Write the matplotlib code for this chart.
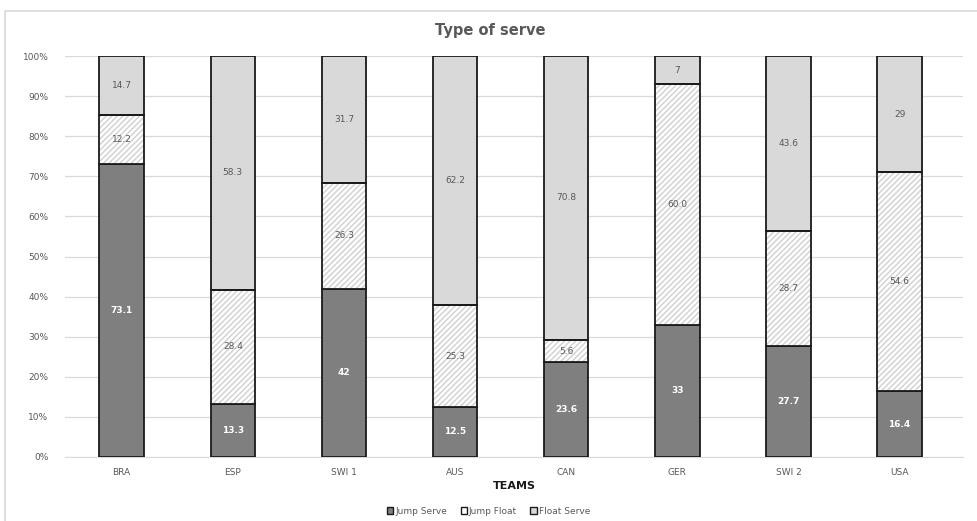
import matplotlib.pyplot as plt
from matplotlib.patches import Rectangle
from matplotlib.ticker import PercentFormatter

teams = ["BRA", "ESP", "SWI 1", "AUS", "CAN", "GER", "SWI 2", "USA"]
jump_serve = [73.1, 13.3, 42, 12.5, 23.6, 33, 27.7, 16.4]
jump_float = [12.2, 28.4, 26.3, 25.3, 5.6, 60.0, 28.7, 54.6]
float_serve = [14.7, 58.3, 31.7, 62.2, 70.8, 7, 43.6, 29]

js_labels = ["73.1", "13.3", "42", "12.5", "23.6", "33", "27.7", "16.4"]
jf_labels = ["12.2", "28.4", "26.3", "25.3", "5.6", "60.0", "28.7", "54.6"]
fs_labels = ["14.7", "58.3", "31.7", "62.2", "70.8", "7", "43.6", "29"]

plt.rcParams['font.family'] = ['DejaVu Sans']

fig = plt.figure(figsize=(9.77, 5.21), dpi=100)
# chart frame, running off the right and bottom edges
fig.patches.append(Rectangle((5 / 977, -0.05), 1.1, 1 - 11 / 521 + 0.05,
                             transform=fig.transFigure, fill=False,
                             edgecolor="#d9d9d9", linewidth=1.2))
ax = fig.add_axes([65 / 977, 1 - 457 / 521, (963 - 65) / 977, (457 - 56) / 521])

x = list(range(len(teams)))
w = 0.4
bottom2 = [a + b for a, b in zip(jump_serve, jump_float)]

ax.bar(x, jump_serve, w, color="#7f7f7f", edgecolor="#1a1a1a", linewidth=1.3,
       zorder=3)
# hatch drawn in light gray, outline added separately in black
ax.bar(x, jump_float, w, bottom=jump_serve, color="white", edgecolor="#d0d0d0",
       hatch="//////", linewidth=0, zorder=3)
ax.bar(x, jump_float, w, bottom=jump_serve, fill=False, edgecolor="#1a1a1a",
       linewidth=1.3, zorder=4)
ax.bar(x, float_serve, w, bottom=bottom2, color="#d9d9d9", edgecolor="#1a1a1a",
       linewidth=1.3, zorder=3)

for i in x:
    ax.text(i, jump_serve[i] / 2, js_labels[i], ha="center", va="center",
            fontsize=6.5, color="white", fontweight="bold", zorder=5)
    ax.text(i, jump_serve[i] + jump_float[i] / 2, jf_labels[i], ha="center",
            va="center", fontsize=6.5, color="#595959", zorder=5)
    ax.text(i, bottom2[i] + float_serve[i] / 2, fs_labels[i], ha="center",
            va="center", fontsize=6.5, color="#595959", zorder=5)

ax.set_xlim(-0.51, 7.57)
ax.set_ylim(0, 100)
ax.set_yticks(range(0, 101, 10))
ax.yaxis.set_major_formatter(PercentFormatter(decimals=0))
ax.set_xticks(x)
ax.set_xticklabels(teams)
ax.tick_params(length=0, labelsize=6.5, colors="#595959", pad=8)
ax.tick_params(axis="y", pad=12)
ax.grid(axis="y", color="#d9d9d9", linewidth=0.9, zorder=0)
for s in ["top", "right", "left"]:
    ax.spines[s].set_visible(False)
ax.spines["bottom"].set_color("#d9d9d9")

ax.set_xlabel("TEAMS", fontsize=8, fontweight="bold", color="#1a1a1a", labelpad=3)
fig.text(490 / 977, 1 - 31 / 521, "Type of serve", ha="center", va="center",
         fontsize=10.5, fontweight="bold", color="#595959")

handles = [Rectangle((0, 0), 1, 1, facecolor="#7f7f7f", edgecolor="#1a1a1a"),
           Rectangle((0, 0), 1, 1, facecolor="white", edgecolor="#1a1a1a"),
           Rectangle((0, 0), 1, 1, facecolor="#d9d9d9", edgecolor="#1a1a1a")]
leg = fig.legend(handles, ["Jump Serve", "Jump Float", "Float Serve"], ncol=3,
                 loc="center", bbox_to_anchor=(0.5, 1 - 511 / 521), frameon=False,
                 fontsize=6.5, handlelength=0.7, handleheight=0.7,
                 handletextpad=0.2, columnspacing=1.5)
for t in leg.get_texts():
    t.set_color("#595959")

fig.savefig("out.png", dpi=100)
